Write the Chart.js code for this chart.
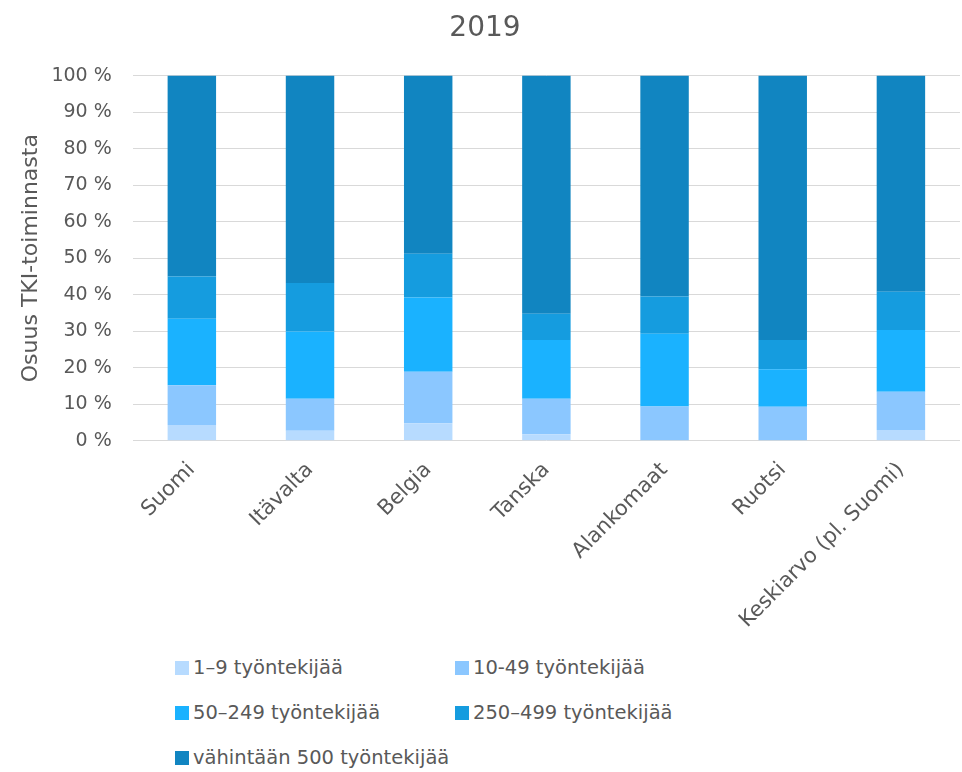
<!DOCTYPE html>
<html>
<head>
<meta charset="utf-8">
<script src="https://cdn.jsdelivr.net/npm/chart.js@4/dist/chart.umd.min.js"></script>
<style>
  body { margin: 0; background: #fff; font-family: "DejaVu Sans", sans-serif; }
  #wrap { width: 962px; height: 642px; position: relative; }
  #legend {
    display: grid;
    grid-template-columns: 280px 300px;
    row-gap: 22px;
    margin-left: 175px;
    margin-top: 14px;
    color: #595959;
    font-size: 19.5px;
  }
  .item { display: flex; align-items: center; white-space: nowrap; }
  .box { width: 14px; height: 14px; margin-right: 4px; }
</style>
</head>
<body>
<div id="wrap"><canvas id="chart"></canvas></div>
<div id="legend"></div>
<script>
/* ---------- DATA ---------- */

const categories = ["Suomi", "Itävalta", "Belgia", "Tanska", "Alankomaat", "Ruotsi", "Keskiarvo (pl. Suomi)"];
const seriesNames = ["1–9 työntekijää", "10-49 työntekijää", "50–249 työntekijää", "250–499 työntekijää", "vähintään 500 työntekijää"];

const size1to9 = [4.3, 2.7, 4.8, 1.8, 0, 0, 2.9];
const size10to49 = [10.9, 8.8, 14.1, 9.7, 9.4, 9.3, 10.5];
const size50to249 = [18.2, 18.4, 20.3, 16.1, 19.9, 10.3, 16.9];
const size250to499 = [11.6, 13.3, 12.0, 7.2, 10.2, 8.0, 10.5];
const size500plus = [55.0, 56.8, 48.8, 65.2, 60.5, 72.4, 59.2];

const yTicks = [0, 10, 20, 30, 40, 50, 60, 70, 80, 90, 100];

const colors = ["#b7dbff", "#8bc7ff", "#1ab2ff", "#159cdf", "#1185c1"];
const seriesValues = [size1to9, size10to49, size50to249, size250to499, size500plus];

/* ---------- CHART ---------- */

const font = "'DejaVu Sans', sans-serif";
const textColor = "#595959";

new Chart(document.getElementById("chart"), {
  type: "bar",
  data: {
    labels: categories,
    datasets: seriesNames.map((name, i) => ({
      label: name,
      data: seriesValues[i],
      backgroundColor: colors[i],
      barPercentage: 0.41,
      categoryPercentage: 1,
    })),
  },
  options: {
    responsive: true,
    maintainAspectRatio: false,
    animation: false,
    layout: { padding: { left: 10, right: 2, top: 2 } },
    plugins: {
      legend: { display: false },
      tooltip: { enabled: false },
      title: {
        display: true,
        text: "2019",
        color: textColor,
        font: { family: font, size: 28, weight: "normal" },
        padding: { top: 10, bottom: 30 },
      },
    },
    scales: {
      x: {
        stacked: true,
        grid: { display: false },
        border: { display: false },
        ticks: {
          color: textColor,
          font: { family: font, size: 21 },
          maxRotation: 45,
          minRotation: 45,
          padding: 9,
        },
      },
      y: {
        stacked: true,
        min: 0,
        max: 100,
        afterBuildTicks: (axis) => {
          axis.ticks = yTicks.map((v) => ({ value: v }));
        },
        grid: { color: "#d9d9d9", lineWidth: 1, drawTicks: false },
        border: { display: false },
        ticks: {
          color: textColor,
          font: { family: font, size: 19 },
          padding: 21,
          callback: (v) => v + " %",
        },
        title: {
          display: true,
          text: "Osuus TKI-toiminnasta",
          color: textColor,
          font: { family: font, size: 22 },
          padding: { top: 8, bottom: -14 },
        },
      },
    },
  },
});

/* ---------- LEGEND ---------- */

const legend = document.getElementById("legend");
seriesNames.forEach((name, i) => {
  const item = document.createElement("div");
  item.className = "item";
  item.innerHTML = `<span class="box" style="background:${colors[i]}"></span>${name}`;
  legend.appendChild(item);
});
</script>
</body>
</html>
